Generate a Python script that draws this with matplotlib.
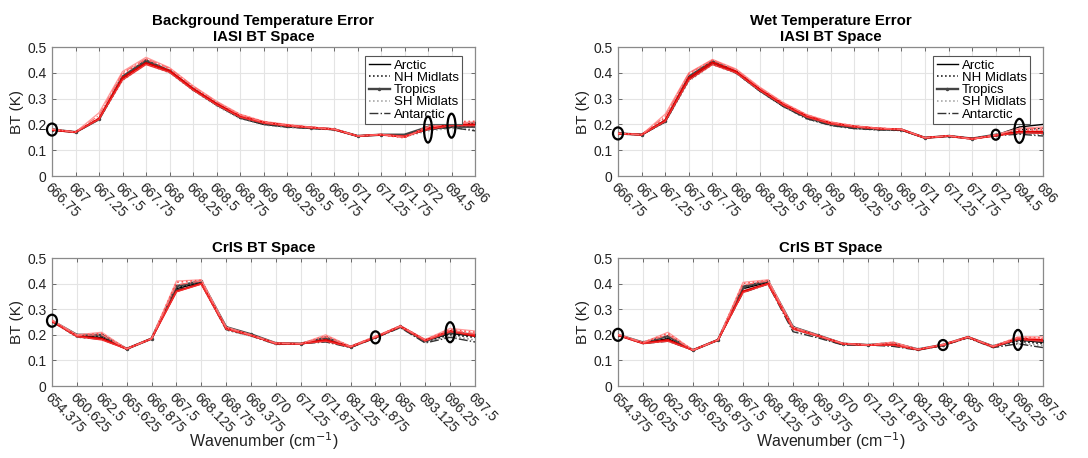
import matplotlib
matplotlib.use("Agg")
import matplotlib.pyplot as plt
from matplotlib.patches import Ellipse

plt.rcParams["font.family"] = ["Liberation Sans", "DejaVu Sans"]

IASI_CH = ["666.75", "667", "667.25", "667.5", "667.75", "668", "668.25", "668.5",
           "668.75", "669", "669.25", "669.5", "669.75", "671", "671.25", "671.75",
           "672", "694.5", "696"]
CRIS_CH = ["654.375", "660.625", "662.5", "665.625", "666.875", "667.5", "668.125",
           "668.75", "669.375", "670", "671.25", "671.875", "681.25", "681.875",
           "685", "693.125", "696.25", "697.5"]

REGIONS = ["Arctic", "NH Midlats", "Tropics", "SH Midlats", "Antarctic"]

# background error, IASI channels (black = regions, red = second set)
bg_iasi_k = [
    [0.180, 0.170, 0.220, 0.380, 0.445, 0.405, 0.335, 0.275, 0.225, 0.200, 0.190, 0.185, 0.180, 0.155, 0.160, 0.155, 0.180, 0.190, 0.190],
    [0.180, 0.170, 0.220, 0.375, 0.440, 0.405, 0.335, 0.278, 0.228, 0.202, 0.192, 0.186, 0.180, 0.155, 0.160, 0.158, 0.185, 0.195, 0.195],
    [0.180, 0.170, 0.220, 0.385, 0.448, 0.408, 0.338, 0.280, 0.230, 0.205, 0.193, 0.187, 0.181, 0.155, 0.160, 0.160, 0.190, 0.200, 0.205],
    [0.180, 0.170, 0.218, 0.370, 0.435, 0.400, 0.332, 0.272, 0.222, 0.198, 0.188, 0.184, 0.179, 0.155, 0.160, 0.152, 0.175, 0.185, 0.180],
    [0.182, 0.170, 0.220, 0.378, 0.442, 0.403, 0.334, 0.276, 0.226, 0.201, 0.190, 0.185, 0.180, 0.155, 0.160, 0.155, 0.180, 0.188, 0.175],
]
bg_iasi_r = [
    [0.182, 0.170, 0.245, 0.405, 0.460, 0.420, 0.350, 0.290, 0.240, 0.212, 0.200, 0.190, 0.183, 0.155, 0.162, 0.150, 0.190, 0.205, 0.210],
    [0.180, 0.170, 0.225, 0.395, 0.452, 0.415, 0.345, 0.285, 0.238, 0.210, 0.198, 0.189, 0.182, 0.155, 0.160, 0.148, 0.195, 0.210, 0.212],
    [0.178, 0.170, 0.222, 0.380, 0.438, 0.408, 0.338, 0.280, 0.232, 0.208, 0.196, 0.188, 0.181, 0.155, 0.160, 0.152, 0.185, 0.200, 0.200],
    [0.180, 0.170, 0.220, 0.372, 0.432, 0.402, 0.333, 0.276, 0.228, 0.205, 0.194, 0.187, 0.180, 0.155, 0.160, 0.155, 0.180, 0.195, 0.195],
    [0.181, 0.170, 0.235, 0.400, 0.455, 0.418, 0.348, 0.288, 0.236, 0.209, 0.197, 0.189, 0.182, 0.155, 0.161, 0.150, 0.188, 0.203, 0.205],
]

# wet error, IASI channels
wet_iasi_k = [
    [0.165, 0.160, 0.210, 0.375, 0.440, 0.400, 0.330, 0.270, 0.225, 0.198, 0.185, 0.180, 0.178, 0.148, 0.155, 0.145, 0.158, 0.190, 0.200],
    [0.165, 0.160, 0.212, 0.380, 0.442, 0.402, 0.332, 0.272, 0.226, 0.200, 0.187, 0.181, 0.179, 0.148, 0.155, 0.145, 0.160, 0.180, 0.185],
    [0.165, 0.160, 0.215, 0.385, 0.445, 0.405, 0.335, 0.275, 0.228, 0.202, 0.188, 0.182, 0.180, 0.148, 0.155, 0.145, 0.160, 0.170, 0.168],
    [0.165, 0.160, 0.208, 0.368, 0.432, 0.398, 0.328, 0.268, 0.220, 0.195, 0.183, 0.178, 0.176, 0.148, 0.155, 0.145, 0.156, 0.165, 0.160],
    [0.166, 0.160, 0.210, 0.372, 0.436, 0.400, 0.330, 0.270, 0.222, 0.196, 0.184, 0.179, 0.177, 0.148, 0.155, 0.145, 0.157, 0.162, 0.155],
]
wet_iasi_r = [
    [0.165, 0.160, 0.240, 0.400, 0.452, 0.415, 0.345, 0.285, 0.238, 0.210, 0.195, 0.186, 0.182, 0.148, 0.156, 0.143, 0.160, 0.185, 0.190],
    [0.163, 0.160, 0.225, 0.395, 0.448, 0.410, 0.340, 0.282, 0.236, 0.208, 0.194, 0.185, 0.181, 0.148, 0.155, 0.143, 0.158, 0.178, 0.180],
    [0.165, 0.160, 0.215, 0.380, 0.440, 0.405, 0.336, 0.278, 0.232, 0.205, 0.192, 0.184, 0.180, 0.148, 0.155, 0.144, 0.157, 0.172, 0.172],
    [0.164, 0.160, 0.212, 0.372, 0.432, 0.400, 0.332, 0.274, 0.228, 0.202, 0.190, 0.183, 0.180, 0.148, 0.155, 0.145, 0.156, 0.168, 0.165],
    [0.166, 0.160, 0.232, 0.398, 0.450, 0.412, 0.342, 0.283, 0.236, 0.208, 0.194, 0.185, 0.181, 0.148, 0.156, 0.143, 0.159, 0.182, 0.186],
]

# background error, CrIS channels
bg_cris_k = [
    [0.255, 0.195, 0.190, 0.145, 0.185, 0.380, 0.405, 0.225, 0.200, 0.165, 0.165, 0.180, 0.152, 0.190, 0.230, 0.175, 0.205, 0.195],
    [0.255, 0.195, 0.195, 0.145, 0.185, 0.385, 0.408, 0.228, 0.200, 0.165, 0.165, 0.185, 0.152, 0.190, 0.232, 0.172, 0.200, 0.190],
    [0.255, 0.200, 0.200, 0.145, 0.185, 0.390, 0.410, 0.230, 0.202, 0.167, 0.165, 0.190, 0.153, 0.190, 0.233, 0.178, 0.210, 0.200],
    [0.252, 0.190, 0.185, 0.145, 0.185, 0.372, 0.400, 0.218, 0.195, 0.162, 0.165, 0.175, 0.150, 0.188, 0.228, 0.170, 0.195, 0.180],
    [0.254, 0.192, 0.182, 0.145, 0.185, 0.375, 0.402, 0.220, 0.196, 0.163, 0.165, 0.172, 0.150, 0.188, 0.228, 0.168, 0.190, 0.172],
]
bg_cris_r = [
    [0.258, 0.200, 0.210, 0.145, 0.185, 0.410, 0.415, 0.230, 0.200, 0.168, 0.165, 0.200, 0.155, 0.195, 0.235, 0.182, 0.225, 0.215],
    [0.255, 0.198, 0.205, 0.145, 0.185, 0.405, 0.413, 0.228, 0.199, 0.167, 0.165, 0.195, 0.155, 0.193, 0.235, 0.180, 0.220, 0.210],
    [0.252, 0.195, 0.185, 0.145, 0.185, 0.370, 0.400, 0.225, 0.198, 0.166, 0.165, 0.180, 0.153, 0.190, 0.233, 0.178, 0.215, 0.195],
    [0.254, 0.193, 0.180, 0.145, 0.185, 0.368, 0.398, 0.222, 0.197, 0.165, 0.165, 0.175, 0.152, 0.190, 0.232, 0.176, 0.212, 0.200],
    [0.256, 0.198, 0.200, 0.145, 0.185, 0.395, 0.410, 0.228, 0.199, 0.167, 0.165, 0.192, 0.154, 0.192, 0.234, 0.180, 0.218, 0.205],
]

# wet error, CrIS channels
wet_cris_k = [
    [0.200, 0.168, 0.185, 0.140, 0.180, 0.380, 0.405, 0.225, 0.195, 0.163, 0.160, 0.162, 0.142, 0.160, 0.190, 0.152, 0.180, 0.170],
    [0.200, 0.168, 0.190, 0.140, 0.180, 0.385, 0.408, 0.228, 0.196, 0.164, 0.160, 0.165, 0.142, 0.160, 0.190, 0.153, 0.175, 0.165],
    [0.200, 0.170, 0.195, 0.140, 0.180, 0.388, 0.410, 0.230, 0.198, 0.165, 0.160, 0.168, 0.143, 0.161, 0.191, 0.155, 0.185, 0.175],
    [0.198, 0.165, 0.178, 0.140, 0.180, 0.368, 0.400, 0.215, 0.190, 0.160, 0.160, 0.158, 0.140, 0.158, 0.188, 0.150, 0.168, 0.158],
    [0.199, 0.166, 0.175, 0.140, 0.180, 0.365, 0.398, 0.212, 0.188, 0.160, 0.160, 0.155, 0.140, 0.158, 0.188, 0.150, 0.165, 0.150],
]
wet_cris_r = [
    [0.202, 0.170, 0.210, 0.140, 0.180, 0.405, 0.415, 0.230, 0.198, 0.167, 0.160, 0.172, 0.143, 0.163, 0.192, 0.155, 0.192, 0.192],
    [0.200, 0.170, 0.205, 0.140, 0.180, 0.400, 0.412, 0.228, 0.197, 0.166, 0.160, 0.170, 0.143, 0.162, 0.192, 0.155, 0.190, 0.188],
    [0.198, 0.167, 0.180, 0.140, 0.180, 0.370, 0.400, 0.225, 0.196, 0.165, 0.160, 0.162, 0.142, 0.160, 0.191, 0.153, 0.185, 0.180],
    [0.199, 0.166, 0.175, 0.140, 0.180, 0.365, 0.398, 0.222, 0.195, 0.164, 0.160, 0.160, 0.142, 0.160, 0.190, 0.153, 0.182, 0.175],
    [0.201, 0.169, 0.200, 0.140, 0.180, 0.395, 0.410, 0.228, 0.197, 0.166, 0.160, 0.168, 0.143, 0.162, 0.191, 0.155, 0.188, 0.185],
]

# highlighted channels: (channel index, BT value, width px, height px)
bg_iasi_marks = [(0, 0.180, 10, 12), (16, 0.180, 8, 26), (17, 0.195, 8, 24)]
wet_iasi_marks = [(0, 0.165, 10, 12), (16, 0.160, 8, 10), (17, 0.175, 10, 24)]
bg_cris_marks = [(0, 0.255, 10, 12), (13, 0.190, 9, 12), (16, 0.210, 9, 20)]
wet_cris_marks = [(0, 0.200, 10, 12), (13, 0.160, 9, 10), (16, 0.180, 9, 20)]

# line style per region (black set)
K_STYLE = [
    dict(color="black", ls="-", lw=1.0),
    dict(color="black", ls=":", lw=1.1),
    dict(color="#444444", ls="-", lw=1.7, marker=".", ms=3),
    dict(color="#999999", ls=":", lw=1.1),
    dict(color="#333333", ls="-.", lw=1.0),
]
R_STYLE = [
    dict(color="#ff9a9a", ls="-", lw=0.9),
    dict(color="#ff5050", ls=":", lw=1.2),
    dict(color="#e00000", ls="-", lw=1.4),
    dict(color="#f03030", ls="-", lw=1.0),
    dict(color="#ff7070", ls="-.", lw=0.9),
]

W, H = 1088, 458
fig = plt.figure(figsize=(W / 100, H / 100), dpi=100)
fig.patch.set_facecolor("white")


def px_axes(x0, y0, x1, y1):
    return fig.add_axes([x0 / W, 1 - y1 / H, (x1 - x0) / W, (y1 - y0) / H])


def draw(ax, labels, black, red, marks, title, legend=False, xlabel=False):
    x = list(range(len(labels)))
    for i, name in enumerate(REGIONS):
        ax.plot(x, black[i], label=name, zorder=3, **K_STYLE[i])
    for i in range(len(red)):
        ax.plot(x, red[i], zorder=4, **R_STYLE[i])

    ax.set_xlim(0, len(labels) - 1)
    ax.set_ylim(0, 0.5)
    ax.set_yticks([0, 0.1, 0.2, 0.3, 0.4, 0.5])
    ax.set_yticklabels(["0", "0.1", "0.2", "0.3", "0.4", "0.5"])
    ax.set_xticks(x)
    ax.set_xticklabels(labels, rotation=-45, ha="left", va="top",
                       rotation_mode="anchor")
    ax.tick_params(direction="in", length=3, width=0.6, color="#555555",
                   top=True, right=True, labelsize=10, labelcolor="#222222",
                   pad=4)
    ax.tick_params(axis="x", pad=3)
    ax.grid(True, color="#e4e4e4", lw=0.8)
    ax.set_axisbelow(True)
    for s in ax.spines.values():
        s.set_color("#8a8a8a")
        s.set_linewidth(0.9)
    ax.set_ylabel("BT (K)", fontsize=11, color="#222222", labelpad=2)
    ax.set_title(title, fontsize=10.8, fontweight="bold", pad=4)

    # circles drawn in pixel size converted to data units
    bb = ax.get_position()
    xpp = (len(labels) - 1) / (bb.width * W)
    ypp = 0.5 / (bb.height * H)
    for idx, yv, wpx, hpx in marks:
        ax.add_patch(Ellipse((idx, yv), wpx * xpp, hpx * ypp, fill=False,
                             ec="black", lw=1.6, zorder=6, clip_on=False))

    if legend:
        leg = ax.legend(loc="upper right", fontsize=9.5, handlelength=1.6,
                        handletextpad=0.3, labelspacing=0.0, borderpad=0.25,
                        fancybox=False, framealpha=1, edgecolor="#555555",
                        bbox_to_anchor=(0.985, 0.98))
        leg.get_frame().set_linewidth(0.8)
    if xlabel:
        cx = (bb.x0 + bb.x1) / 2
        fig.text(cx, 1 - 441 / H, "Wavenumber (cm$^{-1}$)", fontsize=11.5,
                 color="#222222", ha="center", va="center")


ax1 = px_axes(52, 47, 475, 176)
draw(ax1, IASI_CH, bg_iasi_k, bg_iasi_r, bg_iasi_marks,
     "Background Temperature Error\nIASI BT Space", legend=True)
ax2 = px_axes(618, 47, 1043, 176)
draw(ax2, IASI_CH, wet_iasi_k, wet_iasi_r, wet_iasi_marks,
     "Wet Temperature Error\nIASI BT Space", legend=True)
ax3 = px_axes(52, 258, 475, 386)
draw(ax3, CRIS_CH, bg_cris_k, bg_cris_r, bg_cris_marks,
     "CrIS BT Space", xlabel=True)
ax4 = px_axes(618, 258, 1043, 386)
draw(ax4, CRIS_CH, wet_cris_k, wet_cris_r, wet_cris_marks,
     "CrIS BT Space", xlabel=True)

fig.savefig("out.png", dpi=100, facecolor="white")
